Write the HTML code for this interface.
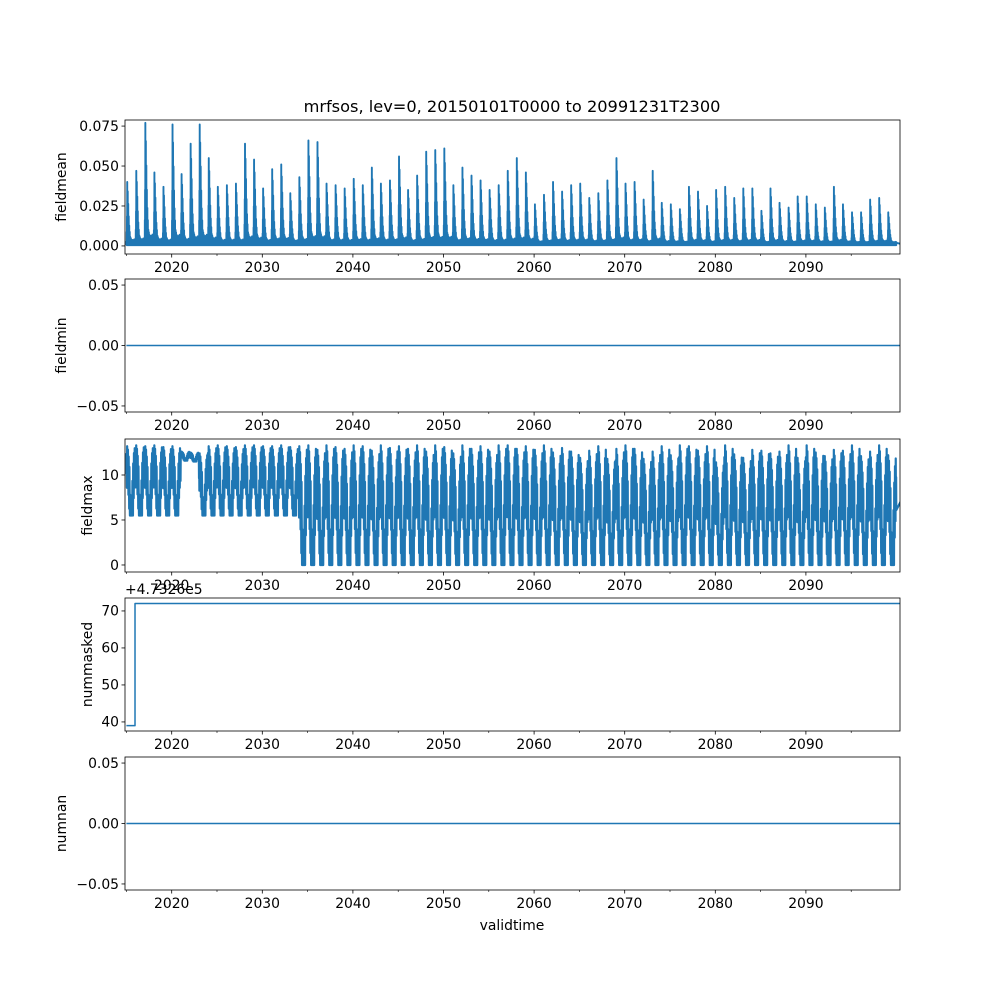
<!DOCTYPE html>
<html><head><meta charset="utf-8"><style>
html,body{margin:0;padding:0;background:#fff;}
svg{display:block;font-family:"DejaVu Sans","Liberation Sans",sans-serif;}
</style></head><body>
<svg id="fig" width="1000" height="1000" viewBox="0 0 1000 1000" xmlns="http://www.w3.org/2000/svg">
<rect x="0" y="0" width="1000" height="1000" fill="#fff"/>
<text x="512" y="112" font-size="16.2" text-anchor="middle" fill="#000">mrfsos, lev=0, 20150101T0000 to 20991231T2300</text>
<text x="512" y="930" font-size="13.9" text-anchor="middle" fill="#000">validtime</text>
</svg>
<script>
// ---- data ----
const years = [];
for (let y = 2015; y <= 2099; y++) years.push(y);
const fieldmeanPeak = [0.039,0.046,0.076,0.045,0.036,0.075,0.044,0.063,0.075,0.054,0.036,0.037,0.038,0.063,0.053,0.035,0.047,0.050,0.032,0.042,0.065,0.064,0.038,0.037,0.035,0.041,0.037,0.048,0.038,0.040,0.055,0.034,0.043,0.058,0.059,0.060,0.037,0.048,0.043,0.040,0.034,0.037,0.046,0.054,0.045,0.025,0.031,0.039,0.033,0.037,0.038,0.029,0.032,0.040,0.054,0.038,0.039,0.028,0.046,0.026,0.025,0.022,0.036,0.033,0.024,0.034,0.036,0.029,0.035,0.035,0.021,0.035,0.026,0.023,0.030,0.030,0.025,0.023,0.036,0.025,0.020,0.020,0.028,0.029,0.020];
const fieldmeanShape = [0.05,0.2,0.45,1.0,0.55,0.85,0.4,0.65,0.3,0.45,0.2,0.3,0.12,0.2,0.08,0.12,0.06,0.1,0.05,0.08,0.04,0.07,0.05,0.06,0.04,0.07,0.03,0.05,0.04,0.06,0.05,0.08,0.04,0.06,0.05,0.07];
const fieldmaxHigh = [13.2,13.3,13.2,13.3,13.1,13.2,12.6,12.5,12.4,13.2,13.3,13.2,13.1,13.3,13.3,13.2,13.2,13.3,13.1,13.2,13.3,12.8,13.3,13.1,12.9,13.3,13.2,12.7,13.3,13.0,13.2,12.9,13.3,12.6,13.3,13.1,12.4,13.3,12.9,13.2,12.6,13.3,13.3,12.9,13.2,12.8,13.3,12.5,13.0,12.6,11.9,12.7,13.2,11.8,12.9,13.3,12.9,11.8,12.6,13.2,12.2,13.3,13.2,12.7,13.2,11.4,13.3,12.3,11.9,12.8,12.7,12.4,12.6,13.3,11.9,13.3,12.5,12.1,12.8,12.7,13.3,12.1,12.6,13.3,12.2];
const fieldmaxLow = [5.5,5.5,5.5,5.5,5.5,5.5,11.6,11.5,5.5,5.5,5.5,5.5,5.5,5.5,5.5,5.5,5.5,5.5,5.5,0,0,0,0,0,0,0,0,0,0,0,0,0,0,0,0,0,0,0,0,0,0,0,0,0,0,0,0,0,0,0,0,0,0,0,0,0,0,0,0,0,0,0,0,0,0,0,0,0,0,0,0,0,0,0,0,0,0,0,0,0,0,0,0,0,0];
const fieldmaxShape = [0.9,0.7,1.0,0.8,0.95,0.6,0.85,0.4,0.7,0.15,0.3,0.0,0.05,0.0,0.25,0.1,0.5,0.3,0.75,0.55,0.9,0.7,0.97,0.8];
const nummaskedTimes = [2015.0, 2015.95, 2015.95, 2100.6];
const nummaskedValues = [39, 39, 72, 72];
const xTickYears = [2020,2030,2040,2050,2060,2070,2080,2090];
const xMinorYears = [2015,2025,2035,2045,2055,2065,2075,2085,2095];

// ---- layout ----
const L = 125, R = 900;
const xScale = t => 126.4 + (t - 2015) * 9.06;
const panels = [
  {name:'fieldmean', top:120, bot:254, ymin:-0.00505, ymax:0.0788, ticks:[0,0.025,0.05,0.075], labels:['0.000','0.025','0.050','0.075'], lx:62},
  {name:'fieldmin', top:279, bot:412, ymin:-0.055, ymax:0.055, ticks:[-0.05,0,0.05], labels:['−0.05','0.00','0.05'], lx:62},
  {name:'fieldmax', top:439, bot:572, ymin:-0.78, ymax:14.0, ticks:[0,5,10], labels:['0','5','10'], lx:88},
  {name:'nummasked', top:598, bot:731, ymin:37.55, ymax:73.5, ticks:[40,50,60,70], labels:['40','50','60','70'], lx:88},
  {name:'numnan', top:757, bot:890, ymin:-0.055, ymax:0.055, ticks:[-0.05,0,0.05], labels:['−0.05','0.00','0.05'], lx:62},
];
const svg = document.getElementById('fig');
const NS = 'http://www.w3.org/2000/svg';
function mk(tag, attrs, parent){const e=document.createElementNS(NS,tag);for(const k in attrs)e.setAttribute(k,attrs[k]);(parent||svg).appendChild(e);return e;}

function series(p){
  const pts=[];
  if(p.name==='fieldmean'){
    years.forEach((y,i)=>{fieldmeanShape.forEach((f,j)=>{
      const t=y+j/fieldmeanShape.length;
      pts.push([t,0.0005]);pts.push([t+0.008,fieldmeanPeak[i]*f+0.001]);pts.push([t+0.016,0.002]);
    });});
    pts.push([2100.6,0.001]);
  } else if(p.name==='fieldmax'){
    years.forEach((y,i)=>{fieldmaxShape.forEach((f,j)=>{
      const t=y+j/fieldmaxShape.length;
      const v=fieldmaxLow[i]+(fieldmaxHigh[i]-fieldmaxLow[i])*f;
      pts.push([t,v]);pts.push([t+0.015,Math.max(fieldmaxLow[i],v-(fieldmaxHigh[i]-fieldmaxLow[i])*0.3)]);
    });});
    pts.push([2100.6,fieldmaxHigh[84]*0.6]);
  } else if(p.name==='nummasked'){
    nummaskedTimes.forEach((t,i)=>pts.push([t,nummaskedValues[i]]));
  } else {
    pts.push([2015,0]);pts.push([2100.6,0]);
  }
  return pts;
}

panels.forEach(p=>{
  const g=mk('g',{});
  
  
  const ys=v=>p.bot-(v-p.ymin)/(p.ymax-p.ymin)*(p.bot-p.top);
  const cid='clip-'+p.name;
  const cp=mk('clipPath',{id:cid},g);mk('rect',{x:L,y:p.top,width:R-L,height:p.bot-p.top},cp);
  const d=series(p).map((q,i)=>(i?'L':'M')+xScale(q[0]).toFixed(2)+','+ys(q[1]).toFixed(2)).join('');
  const sw = p.name==='fieldmax'?2.2:(p.name==='fieldmean'?1.9:1.5);
  const line=mk('path',{d:d,fill:'none',stroke:'#1f77b4','stroke-width':sw,'stroke-linejoin':'round','clip-path':'url(#'+cid+')'},g);
  
  
  const frame=mk('rect',{x:L,y:p.top,width:R-L,height:p.bot-p.top,fill:'none',stroke:'#000','stroke-width':0.8},g);
  
  
  p.ticks.forEach((v,i)=>{
    const y=ys(v);
    mk('line',{x1:L-3.5,x2:L,y1:y,y2:y,stroke:'#000','stroke-width':0.8},g);
    const t=mk('text',{x:L-6,y:y+4.8,'font-size':13.9,'text-anchor':'end',fill:'#000'},g);
    t.textContent=p.labels[i];
    
    
  });
  xTickYears.forEach(yr=>{
    const x=xScale(yr);
    mk('line',{x1:x,x2:x,y1:p.bot,y2:p.bot+3.5,stroke:'#000','stroke-width':0.8},g);
    const t=mk('text',{x:x,y:p.bot+18,'font-size':13.9,'text-anchor':'middle',fill:'#000'},g);
    t.textContent=String(yr);
    
    
  });
  xMinorYears.forEach(yr=>{
    const x=xScale(yr);
    mk('line',{x1:x,x2:x,y1:p.bot,y2:p.bot+2,stroke:'#000','stroke-width':0.6},g);
  });
  const yl=mk('text',{x:0,y:0,'font-size':13.9,'text-anchor':'middle',fill:'#000',transform:'translate('+(p.lx+4)+','+((p.top+p.bot)/2)+') rotate(-90)'},g);
  yl.textContent=p.name;
  
  
  if(p.name==='nummasked'){
    const off=mk('text',{x:L,y:p.top-4,'font-size':13.9,'text-anchor':'start',fill:'#000'},g);
    off.textContent='+4.7326e5';
    
    
  }
});
</script>
</body></html>
